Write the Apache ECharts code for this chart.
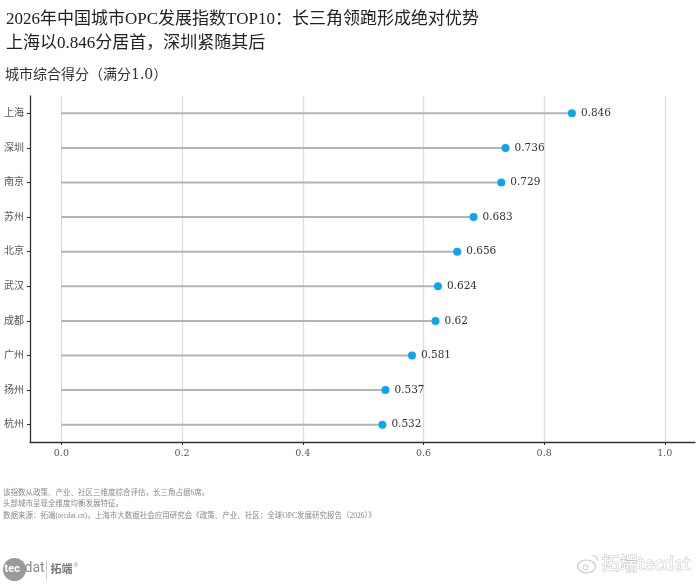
<!DOCTYPE html>
<html>
<head>
<meta charset="utf-8">
<script src="https://cdn.jsdelivr.net/npm/echarts@6/dist/echarts.min.js"></script>
<style>
  html, body { margin: 0; padding: 0; background: #fff; }
  #opc_chart { width: 700px; height: 584px; }
</style>
</head>
<body>
<div id="opc_chart"></div>
<script>
// 城市和得分（从上到下）
var cities = ['上海', '深圳', '南京', '苏州', '北京', '武汉', '成都', '广州', '扬州', '杭州'];
var scores = [0.846, 0.736, 0.729, 0.683, 0.656, 0.624, 0.62, 0.581, 0.537, 0.532];
var xTicks = [0, 0.2, 0.4, 0.6, 0.8, 1.0];

var notes = [
    '该指数从政策、产业、社区三维度综合评估，长三角占据6席。',
    '头部城市呈现全维度均衡发展特征。',
    '数据来源：拓端(tecdat.cn)，上海市大数据社会应用研究会《政策、产业、社区：全球OPC发展研究报告（2026）》'
];

var FONT = "'Liberation Serif', 'Noto Sans CJK SC', serif";
var NUM_FONT = "'DejaVu Serif', 'Noto Sans CJK SC', serif";

let opcChart = echarts.init(document.getElementById('opc_chart'));

var option = {
    backgroundColor: '#fff',
    animation: false,
    textStyle: { fontFamily: FONT },
    title: [
        {
            text: '2026年中国城市OPC发展指数TOP10：长三角领跑形成绝对优势\n上海以0.846分居首，深圳紧随其后',
            left: 1,
            top: 3,
            textStyle: { fontSize: 17, fontWeight: 'normal', color: '#222', lineHeight: 24, fontFamily: FONT }
        },
        {
            text: '城市综合得分（满分1.0）',
            left: 0,
            top: 63,
            textStyle: { fontSize: 14, fontWeight: 'normal', color: '#333', fontFamily: NUM_FONT }
        }
    ],
    grid: {
        left: 30,
        right: 5,
        top: 96,
        bottom: 142
    },
    xAxis: {
        type: 'value',
        min: -0.052,
        max: 1.05,
        axisLine: { show: true, onZero: false, lineStyle: { color: '#333', width: 1.3 } },
        axisTick: { show: true, length: 3, customValues: xTicks, lineStyle: { color: '#333' } },
        axisLabel: {
            customValues: xTicks,
            margin: 7,
            fontSize: 9.5,
            color: '#555',
            fontFamily: NUM_FONT,
            formatter: function (v) { return v.toFixed(1); }
        },
        splitLine: { show: true, lineStyle: { color: '#dcdcdc', width: 1.3 } }
    },
    yAxis: {
        type: 'category',
        inverse: true,
        data: cities,
        axisLine: { show: true, onZero: false, lineStyle: { color: '#333', width: 1.3 } },
        axisTick: { show: true, alignWithLabel: true, length: 3, lineStyle: { color: '#333' } },
        axisLabel: { margin: 6, fontSize: 10, color: '#555' }
    },
    series: [
        {
            name: 'stem',
            type: 'bar',
            data: scores,
            barWidth: 2,
            itemStyle: { color: '#b3b3b3' },
            silent: true
        },
        {
            name: '得分',
            type: 'scatter',
            data: scores,
            symbolSize: 8,
            itemStyle: { color: '#0ca6f0', opacity: 1 },
            label: {
                show: true,
                position: 'right',
                distance: 5,
                fontSize: 10.5,
                color: '#333',
                fontFamily: NUM_FONT,
                formatter: function (p) { return String(p.value); }
            }
        }
    ],
    graphic: [
        {
            type: 'text',
            left: 3,
            top: 487,
            style: {
                text: notes.join('\n'),
                fontSize: 7.5,
                lineHeight: 11.5,
                fill: '#888',
                fontFamily: FONT
            }
        },
        // 左下角 logo
        {
            type: 'group',
            left: 3,
            top: 558,
            children: [
                { type: 'circle', shape: { cx: 12, cy: 12, r: 11.5 }, style: { fill: '#9a9a9a' } },
                { type: 'text', x: 2, y: 6, style: { text: 'tec', fontSize: 11, fontWeight: 'bold', fill: '#fff', fontFamily: 'Roboto' } },
                { type: 'text', x: 22, y: 4, style: { text: 'dat', fontSize: 14, fill: '#8a8a8a', fontFamily: 'Roboto' } },
                { type: 'line', shape: { x1: 44, y1: 3, x2: 44, y2: 22 }, style: { stroke: '#ccc', lineWidth: 1 } },
                { type: 'text', x: 48, y: 6, style: { text: '拓端', fontSize: 11, fontWeight: 'bold', fill: '#777', fontFamily: 'Noto Sans CJK SC' } },
                { type: 'text', x: 71, y: 5, style: { text: '®', fontSize: 6, fill: '#777' } }
            ]
        },
        // 右下角水印
        {
            type: 'group',
            left: 575,
            top: 553,
            children: [
                { type: 'ellipse', shape: { cx: 11, cy: 14, rx: 9, ry: 6.5 }, style: { fill: 'none', stroke: '#c8c8c8', lineWidth: 1.2 } },
                { type: 'circle', shape: { cx: 10, cy: 15, r: 2.5 }, style: { fill: 'none', stroke: '#c8c8c8', lineWidth: 1 } },
                { type: 'arc', shape: { cx: 17, cy: 8, r: 5, startAngle: -Math.PI / 2, endAngle: 0 }, style: { fill: 'none', stroke: '#c8c8c8', lineWidth: 1.2 } },
                {
                    type: 'text', x: 26, y: 2,
                    style: { text: '拓端tecdat', fontSize: 18, fill: '#fff', stroke: '#c4c4c4', lineWidth: 1, fontFamily: "'Noto Sans CJK SC', sans-serif" }
                }
            ]
        }
    ]
};

option && opcChart.setOption(option, true);
</script>
</body>
</html>
